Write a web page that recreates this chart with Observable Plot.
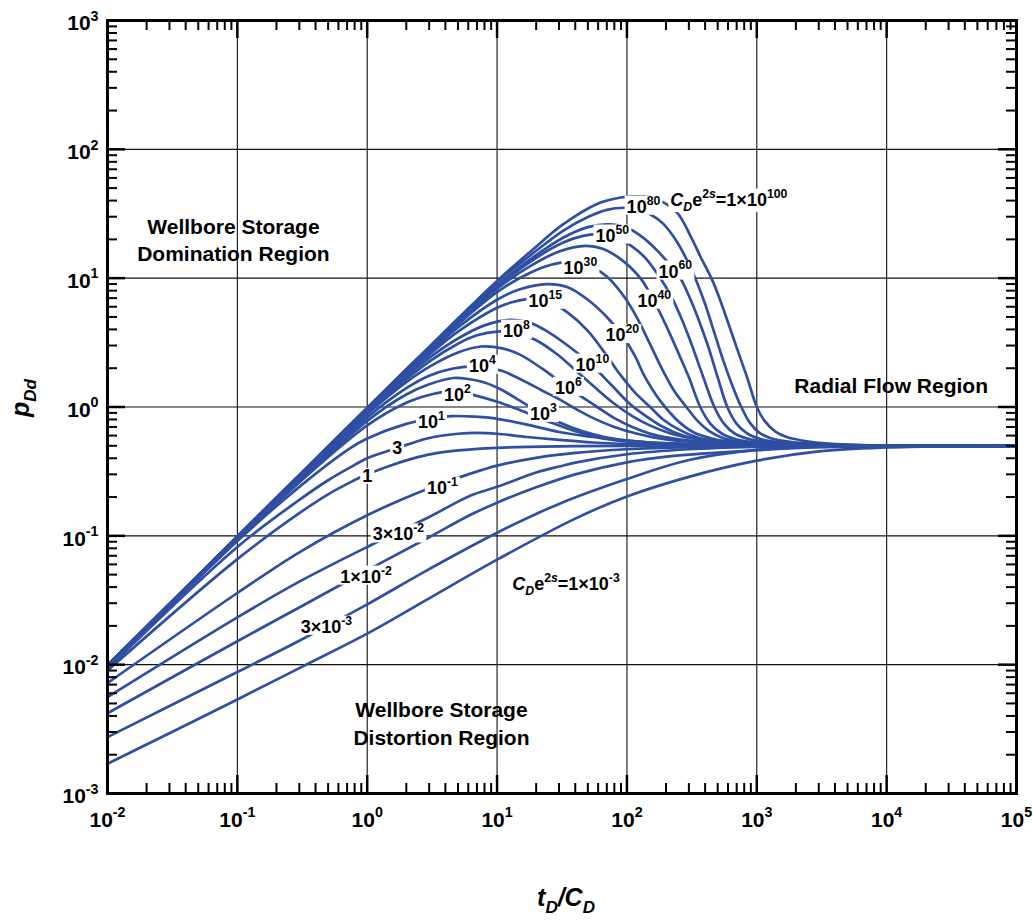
<!DOCTYPE html>
<html><head><meta charset="utf-8">
<script src="https://cdn.jsdelivr.net/npm/d3@7"></script>
<script src="https://cdn.jsdelivr.net/npm/@observablehq/plot@0.6"></script>
<style>
html,body{margin:0;padding:0;background:#fff;}
#chart{width:1033px;height:924px;}
</style></head><body><div id="chart"></div>
<script>
// ---- axis tick values ----
const xExponents = [-2, -1, 0, 1, 2, 3, 4, 5];
const yExponents = [-3, -2, -1, 0, 1, 2, 3];
const minorSteps = [2, 3, 4, 5, 6, 7, 8, 9];

// ---- curves: [tD/CD, pDd] ----
const c1e100 = [[0.01,0.0099],[0.1,0.099],[1,0.985],[3,2.93],[10,9.5],[18,16],[32,26],[60,38],[90,42.3],[120,43.2],[150,42.5],[180,40],[245,32],[307,21.5],[367,14.8],[447,10],[500,7.6],[593,4.7],[708,2.8],[845,1.68],[1000,1.0],[1150,0.78],[1400,0.64],[1700,0.585],[2500,0.54],[5000,0.51],[10000,0.502],[100000,0.5]];
const c1e80 = [[0.01,0.0099],[0.1,0.099],[1,0.985],[3,2.9],[10,9.3],[18,15],[32,23.2],[50,29.8],[70,33.9],[95,35.2],[120,34.3],[150,31.5],[190,26.5],[240,19.5],[290,13.8],[336,10],[400,6.3],[470,3.8],[560,2.2],[660,1.4],[760,1.0],[880,0.76],[1050,0.63],[1300,0.57],[2000,0.53],[4000,0.51],[10000,0.502],[100000,0.5]];
const c1e60 = [[0.01,0.0099],[0.1,0.098],[1,0.98],[3,2.88],[10,8.8],[18,14],[32,20.5],[50,24.9],[72,26.2],[100,24.6],[130,21],[170,16.5],[210,13],[258,10],[300,7.3],[350,5.0],[420,3.0],[500,1.7],[593,1.0],[700,0.74],[850,0.62],[1100,0.56],[1600,0.53],[3000,0.51],[10000,0.501],[100000,0.5]];
const c1e50 = [[0.01,0.0098],[0.1,0.098],[1,0.98],[3,2.85],[10,8.6],[18,13.4],[32,18.8],[45,21.2],[60,22],[80,21],[110,17.6],[140,14.2],[181,10],[220,7.2],[260,5.0],[310,3.2],[380,1.8],[471,1.0],[560,0.74],[680,0.62],[900,0.56],[1300,0.53],[2500,0.51],[10000,0.501],[100000,0.5]];
const c1e40 = [[0.01,0.0098],[0.1,0.098],[1,0.975],[3,2.82],[10,8.3],[18,12.4],[30,16.1],[48,17.8],[65,16.9],[90,14],[127,10],[162,6.6],[200,4.3],[250,2.6],[300,1.7],[367,1.0],[440,0.74],[540,0.62],[700,0.56],[1000,0.53],[2000,0.51],[10000,0.501],[100000,0.5]];
const c1e30 = [[0.01,0.0098],[0.1,0.098],[1,0.97],[3,2.78],[10,7.8],[18,11],[26,12.7],[36,13.4],[50,12.6],[70,10.3],[95,7.2],[120,4.9],[150,3.1],[190,1.9],[235,1.3],[287,1.0],[350,0.78],[430,0.65],[560,0.57],[800,0.53],[1500,0.51],[10000,0.501],[100000,0.5]];
const c1e20 = [[0.01,0.0098],[0.1,0.097],[1,0.96],[3,2.65],[5,4.15],[10,6.8],[15,8.2],[24,9.0],[35,8.5],[50,6.8],[70,5.0],[92,3.6],[115,2.5],[134,1.8],[155,1.4],[180,1.12],[215,0.9],[250,0.77],[322,0.64],[450,0.57],[700,0.53],[1500,0.51],[10000,0.501],[100000,0.5]];
const c1e15 = [[0.01,0.0097],[0.1,0.097],[1,0.95],[3,2.55],[5,3.85],[10,5.9],[13,6.5],[18,6.9],[25,6.6],[35,5.4],[50,3.9],[70,2.5],[90,1.75],[115,1.3],[151,1.0],[190,0.8],[250,0.67],[350,0.58],[550,0.54],[1000,0.52],[3000,0.505],[10000,0.501],[100000,0.5]];
const c1e10 = [[0.01,0.0097],[0.1,0.097],[1,0.93],[3,2.4],[5,3.4],[8,4.3],[12.5,4.75],[18,4.5],[25,3.8],[35,3.0],[54,2.1],[75,1.5],[106,1.05],[140,0.85],[190,0.7],[270,0.6],[400,0.55],[700,0.52],[2000,0.505],[10000,0.5],[100000,0.5]];
const c1e8 = [[0.01,0.0097],[0.1,0.096],[1,0.91],[3,2.25],[5,3.1],[7,3.6],[10,3.85],[14,3.75],[20,3.3],[30,2.5],[42,1.85],[60,1.35],[81,1.05],[110,0.85],[150,0.72],[220,0.62],[350,0.56],[600,0.53],[1500,0.51],[10000,0.5],[100000,0.5]];
const c1e6 = [[0.01,0.0097],[0.1,0.096],[1,0.88],[2,1.56],[3,2.05],[5,2.65],[7.5,2.95],[11,2.85],[15,2.55],[22,2.0],[35,1.42],[59,1.0],[80,0.82],[110,0.7],[160,0.61],[250,0.56],[450,0.53],[1000,0.515],[3000,0.505],[10000,0.5],[100000,0.5]];
const c1e4 = [[0.01,0.0096],[0.1,0.095],[1,0.83],[2,1.4],[3,1.75],[4.5,1.98],[6.5,2.07],[8,2.05],[11,1.9],[15,1.65],[22,1.35],[30,1.15],[38,1.0],[55,0.82],[80,0.7],[120,0.62],[200,0.56],[400,0.53],[1000,0.51],[10000,0.5],[100000,0.5]];
const c1e3 = [[0.01,0.0096],[0.1,0.094],[1,0.78],[2,1.25],[3,1.5],[4.6,1.68],[6,1.65],[8,1.55],[11,1.35],[15,1.12],[18,1.0],[22.7,0.88],[30,0.76],[45,0.65],[70,0.58],[120,0.54],[250,0.52],[1000,0.505],[10000,0.5],[100000,0.5]];
const c1e2 = [[0.01,0.0095],[0.1,0.093],[0.3,0.26],[1,0.72],[2,1.08],[3,1.24],[4,1.31],[5.5,1.29],[7,1.22],[10,1.1],[13,1.0],[17,0.9],[25,0.77],[40,0.65],[70,0.57],[150,0.53],[500,0.51],[3000,0.5],[100000,0.5]];
const c1e1 = [[0.01,0.0094],[0.1,0.091],[0.3,0.24],[0.74,0.48],[1,0.57],[2,0.74],[3.1,0.81],[4.5,0.85],[7,0.84],[9.3,0.82],[17,0.73],[30,0.64],[55,0.585],[100,0.54],[300,0.51],[1000,0.503],[10000,0.5],[100000,0.5]];
const c3 = [[0.01,0.0093],[0.1,0.082],[0.3,0.19],[0.5,0.27],[0.74,0.34],[1,0.4],[1.7,0.48],[2.9,0.57],[5,0.62],[7,0.63],[10,0.62],[17,0.585],[30,0.555],[55,0.53],[100,0.516],[300,0.505],[1000,0.501],[10000,0.5],[100000,0.5]];
const c1 = [[0.01,0.009],[0.1,0.066],[0.3,0.15],[0.5,0.21],[0.74,0.26],[1,0.3],[1.5,0.35],[2,0.385],[2.9,0.425],[5,0.46],[10,0.482],[30,0.495],[100,0.499],[1000,0.5],[100000,0.5]];
const c1em1 = [[0.01,0.0072],[0.1,0.036],[0.3,0.0745],[1,0.1445],[3,0.234],[6,0.3],[10,0.351],[20,0.403],[40,0.44],[100,0.47],[300,0.489],[1000,0.497],[10000,0.5],[100000,0.5]];
const c3em2 = [[0.01,0.0056],[0.1,0.0233],[0.3,0.0441],[1,0.082],[3,0.14],[6.2,0.205],[10,0.24],[20,0.31],[30,0.345],[40,0.37],[100,0.43],[300,0.47],[1000,0.49],[3000,0.497],[10000,0.499],[100000,0.5]];
const c1em2 = [[0.01,0.0042],[0.1,0.0152],[0.3,0.0278],[1,0.054],[3,0.0975],[6.2,0.145],[10,0.181],[20,0.238],[40,0.3],[100,0.372],[227,0.417],[1000,0.462],[3000,0.487],[10000,0.497],[100000,0.5]];
const c3em3 = [[0.01,0.00274],[0.1,0.00877],[0.3,0.01535],[1,0.0294],[3,0.0552],[10,0.1057],[30,0.177],[100,0.276],[300,0.388],[1000,0.465],[3000,0.491],[10000,0.498],[100000,0.5]];
const c1em3 = [[0.01,0.0017],[0.1,0.00537],[0.3,0.0094],[1,0.0174],[3,0.0327],[10,0.0653],[40,0.136],[100,0.202],[300,0.287],[1000,0.383],[3000,0.452],[10000,0.485],[30000,0.496],[100000,0.5]];

const curveKeys = ["1e100","1e80","1e60","1e50","1e40","1e30","1e20","1e15","1e10","1e8","1e6","1e4","1e3","1e2","1e1","3","1","1e-1","3e-2","1e-2","3e-3","1e-3"];
const curveData = [c1e100,c1e80,c1e60,c1e50,c1e40,c1e30,c1e20,c1e15,c1e10,c1e8,c1e6,c1e4,c1e3,c1e2,c1e1,c3,c1,c1em1,c3em2,c1em2,c3em3,c1em3];

// ---- curve labels (text, anchor in data coordinates) ----
const labelTexts = ["10^{80}","10^{60}","10^{50}","10^{40}","10^{30}","10^{20}","10^{15}","10^{10}","10^{8}","10^{6}","10^{4}","10^{3}","10^{2}","10^{1}","3","1","10^{-1}","3×10^{-2}","1×10^{-2}","3×10^{-3}"];
const labelT = [134,236,77.2,162.5,43.8,92,23.5,54.2,14.1,35.4,7.7,22.7,4.94,3.12,1.70,1.0,3.79,1.74,0.98,0.485];
const labelP = [35.7,11.2,21.3,6.65,12.0,3.6,6.65,2.12,3.89,1.40,2.08,0.88,1.24,0.765,0.48,0.291,0.235,0.102,0.048,0.0196];
const endLabelTexts = ["*C*_{*D*}e^{2*s*}=1×10^{100}","*C*_{*D*}e^{2*s*}=1×10^{-3}"];
const endLabelT = [216, 13.1];
const endLabelP = [40.5, 0.0422];

// ---- region annotations ----
const regionTexts = ["Wellbore Storage\nDomination Region","Radial Flow Region","Wellbore Storage\nDistortion Region"];
const regionT = [0.0933, 10840, 3.73];
const regionP = [20.2, 1.51, 0.00358];

// ---- build ----
const rows = curveKeys.flatMap((k, i) => curveData[i].map(([t, p]) => ({key: k, t, p})));
const dec = (e) => Math.pow(10, e);
const xGrid = xExponents.slice(1, -1).map(dec);
const yGrid = yExponents.slice(1, -1).map(dec);
const xMinor = xExponents.slice(0, -1).flatMap(e => minorSteps.map(m => m * dec(e)));
const yMinor = yExponents.slice(0, -1).flatMap(e => minorSteps.map(m => m * dec(e)));

const W = 1033, H = 924, ML = 107, MR = 17, MT = 20, MB = 131;
const FW = W - ML - MR, FH = H - MT - MB;
const blue = "#2e4fa2";
const labelInk = "#010101";
const minorLen = 10, majorLen = 18;

const chart = Plot.plot({
  width: W, height: H,
  marginLeft: ML, marginRight: MR, marginTop: MT, marginBottom: MB,
  x: {type: "log", domain: [dec(-2), dec(5)], axis: null},
  y: {type: "log", domain: [dec(-3), dec(3)], axis: null},
  style: {fontFamily: "'Liberation Sans', Arial, sans-serif", fontSize: "21px", fontWeight: "bold", background: "white", color: "black", overflow: "visible"},
  marks: [
    Plot.ruleX(xGrid, {stroke: "#111", strokeWidth: 1.1}),
    Plot.ruleY(yGrid, {stroke: "#111", strokeWidth: 1.1}),
    Plot.line(rows, {x: "t", y: "p", z: "key", stroke: blue, strokeWidth: 2.7, curve: "catmull-rom"}),
    // minor ticks (inward) on all four sides
    Plot.ruleX(xMinor, {stroke: "black", strokeWidth: 2, insetBottom: FH - minorLen}),
    Plot.ruleX(xMinor, {stroke: "black", strokeWidth: 2, insetTop: FH - minorLen}),
    Plot.ruleY(yMinor, {stroke: "black", strokeWidth: 2, insetRight: FW - minorLen}),
    Plot.ruleY(yMinor, {stroke: "black", strokeWidth: 2, insetLeft: FW - minorLen}),
    // major ticks
    Plot.ruleX(xGrid, {stroke: "black", strokeWidth: 2.5, insetBottom: FH - majorLen}),
    Plot.ruleX(xGrid, {stroke: "black", strokeWidth: 2.5, insetTop: FH - majorLen}),
    Plot.ruleY(yGrid, {stroke: "black", strokeWidth: 2.5, insetRight: FW - majorLen}),
    Plot.ruleY(yGrid, {stroke: "black", strokeWidth: 2.5, insetLeft: FW - majorLen}),
    Plot.frame({stroke: "black", strokeWidth: 3}),
    // tick labels
    Plot.text(xExponents, {x: dec, text: e => `10^{${e}}`, frameAnchor: "bottom", dy: 33, fill: "black", fontSize: 21}),
    Plot.text(yExponents, {y: dec, text: e => `10^{${e}}`, frameAnchor: "left", textAnchor: "end", dx: -9, dy: 3, fill: "black", fontSize: 21}),
    // curve labels (white boxes added after render)
    Plot.text(labelTexts.map((_, i) => i), {x: i => labelT[i], y: i => labelP[i], text: i => labelTexts[i], fontSize: 18, fill: labelInk}),
    Plot.text(endLabelTexts.map((_, i) => i), {x: i => endLabelT[i], y: i => endLabelP[i], text: i => endLabelTexts[i], textAnchor: "start", fontSize: 18, fill: labelInk}),
    // region annotations
    Plot.text(regionTexts.map((_, i) => i), {x: i => regionT[i], y: i => regionP[i], text: i => regionTexts[i], fontSize: 21, lineHeight: 1.3, fill: "black"}),
    // axis titles
    Plot.text(["p_{Dd}"], {text: d => d, frameAnchor: "left", dx: -87, dy: 10, rotate: -90, fontSize: 25, fontStyle: "italic", fill: "black"}),
    Plot.text(["t_{D}/C_{D}"], {text: d => d, frameAnchor: "bottom", dy: 112, dx: 4, fontSize: 25, fontStyle: "italic", fill: "black"})
  ]
});

const NS = "http://www.w3.org/2000/svg";
// rich text: ^{..} superscript, _{..} subscript, *..* italic
function richify(svg) {
  svg.querySelectorAll("text").forEach(el => {
    if (el.querySelector("tspan")) return;
    const s = el.textContent;
    if (!/[\^_*]/.test(s)) return;
    const parts = s.split(/(\^\{[^}]*\}|_\{[^}]*\})/).filter(p => p !== "");
    el.textContent = "";
    let cur = 0;
    for (const p of parts) {
      let kind = "n", content = p;
      if (p.startsWith("^{")) { kind = "sup"; content = p.slice(2, -1); }
      else if (p.startsWith("_{")) { kind = "sub"; content = p.slice(2, -1); }
      const scale = kind === "n" ? 1 : 0.68;
      const target = kind === "sup" ? -0.45 : kind === "sub" ? 0.3 : 0;
      const segs = content.split(/(\*[^*]*\*)/).filter(x => x !== "");
      segs.forEach((seg, j) => {
        const ts = document.createElementNS(NS, "tspan");
        const it = seg.length > 1 && seg.startsWith("*") && seg.endsWith("*");
        ts.textContent = it ? seg.slice(1, -1) : seg;
        if (it) ts.setAttribute("font-style", "italic");
        if (scale !== 1) ts.setAttribute("font-size", scale + "em");
        if (j === 0 && target !== cur) {
          ts.setAttribute("dy", ((target - cur) / scale).toFixed(3) + "em");
          cur = target;
        }
        el.appendChild(ts);
      });
    }
  });
}
richify(chart);
document.getElementById("chart").appendChild(chart);

// white boxes behind the curve labels, as in the original figure
chart.querySelectorAll(`g[fill="${labelInk}"] text`).forEach(t => {
  const b = t.getBBox();
  const r = document.createElementNS(NS, "rect");
  r.setAttribute("x", b.x - 2);
  r.setAttribute("y", b.y + 2);
  r.setAttribute("width", b.width + 4);
  r.setAttribute("height", Math.max(0, b.height - 4));
  r.setAttribute("fill", "white");
  const tr = t.getAttribute("transform");
  if (tr) r.setAttribute("transform", tr);
  t.parentNode.insertBefore(r, t);
});
</script>
</body></html>
